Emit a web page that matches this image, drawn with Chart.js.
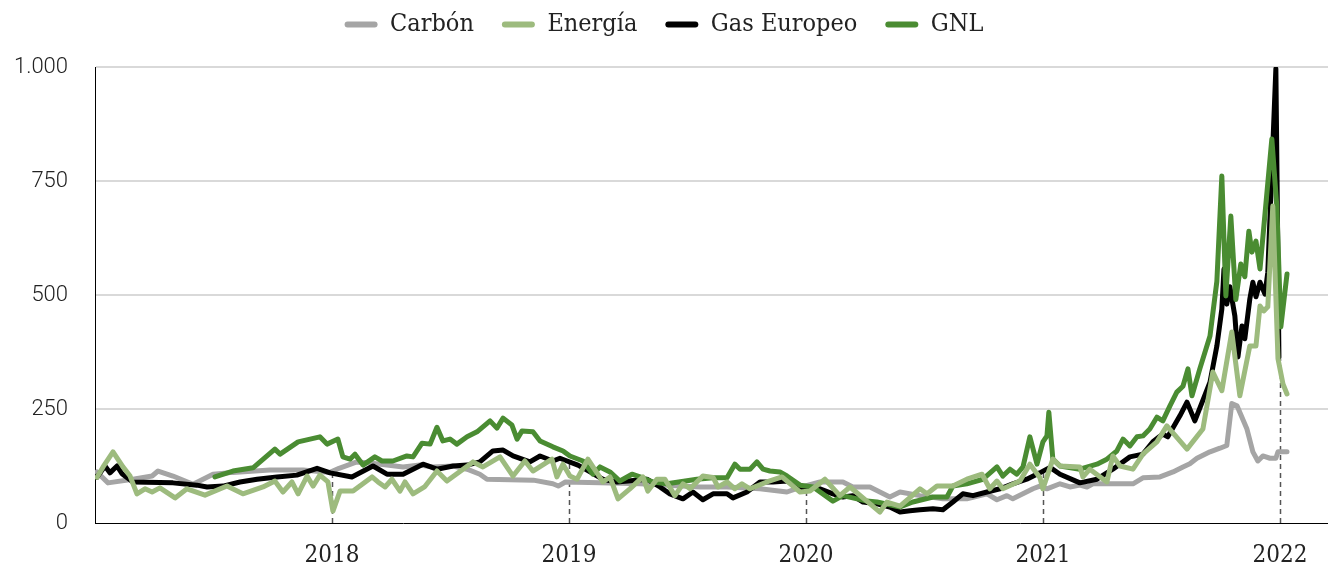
<!DOCTYPE html>
<html>
<head>
<meta charset="utf-8">
<script src="https://cdn.jsdelivr.net/npm/chart.js@4.4.1/dist/chart.umd.min.js"></script>
<style>
  html, body { margin: 0; padding: 0; background: #fff; }
  #wrap { width: 1328px; height: 566px; }
</style>
</head>
<body>
<div id="wrap"><canvas id="c" width="1328" height="566"></canvas></div>
<script>
// ---- Data (x = decimal year) ----
const seriesNames = ['Carbón', 'Energía', 'Gas Europeo', 'GNL'];
const yearTicks = [2018, 2019, 2020, 2021, 2022];
const yearLabels = ['2018', '2019', '2020', '2021', '2022'];
const yTickValues = [0, 250, 500, 750, 1000];
const yTickLabels = ['0', '250', '500', '750', '1.000'];

const carbonDates = [2017.008,2017.055,2017.160,2017.241,2017.266,2017.329,2017.414,2017.498,2017.582,2017.738,2017.878,2017.992,2018.030,2018.105,2018.148,2018.232,2018.300,2018.371,2018.426,2018.511,2018.570,2018.624,2018.654,2018.750,2018.850,2018.932,2018.955,2018.985,2019.131,2019.300,2019.553,2019.667,2019.806,2019.920,2019.975,2020.059,2020.156,2020.198,2020.270,2020.354,2020.397,2020.481,2020.578,2020.679,2020.764,2020.806,2020.848,2020.873,2020.958,2020.987,2021.017,2021.072,2021.114,2021.156,2021.186,2021.211,2021.380,2021.422,2021.494,2021.549,2021.591,2021.620,2021.650,2021.705,2021.747,2021.776,2021.797,2021.819,2021.861,2021.886,2021.907,2021.928,2021.958,2021.983,2021.992,2022.030];
const carbonValues = [112,88,96,103,114,103,85,107,111,116,116,111,120,134,132,127,123,127,123,125,118,107,96,95,94,86,81,90,88,86,79,79,75,68,78,90,90,79,79,57,68,60,53,53,64,51,60,53,75,81,75,86,79,83,79,86,86,99,101,112,123,130,142,156,164,170,262,257,206,156,136,147,142,142,156,156];

const energiaDates = [2017.008,2017.034,2017.076,2017.118,2017.148,2017.177,2017.211,2017.241,2017.274,2017.338,2017.388,2017.464,2017.557,2017.624,2017.709,2017.759,2017.793,2017.831,2017.857,2017.895,2017.920,2017.949,2017.983,2018.004,2018.034,2018.089,2018.169,2018.194,2018.224,2018.253,2018.287,2018.308,2018.342,2018.392,2018.443,2018.485,2018.595,2018.637,2018.709,2018.764,2018.814,2018.848,2018.928,2018.949,2018.975,2019.004,2019.034,2019.080,2019.143,2019.173,2019.207,2019.257,2019.312,2019.333,2019.371,2019.405,2019.447,2019.481,2019.511,2019.565,2019.608,2019.629,2019.667,2019.700,2019.730,2019.764,2019.835,2019.899,2019.975,2020.017,2020.080,2020.143,2020.186,2020.257,2020.312,2020.342,2020.397,2020.481,2020.511,2020.553,2020.620,2020.679,2020.743,2020.776,2020.806,2020.831,2020.903,2020.945,2020.987,2021.000,2021.042,2021.072,2021.156,2021.169,2021.198,2021.270,2021.295,2021.325,2021.380,2021.422,2021.481,2021.523,2021.608,2021.675,2021.717,2021.755,2021.797,2021.831,2021.873,2021.899,2021.916,2021.932,2021.949,2021.970,2021.992,2022.013,2022.030];
const energiaValues = [100,123,156,123,103,64,75,68,77,55,75,61,81,64,79,92,68,90,64,103,81,105,90,26,70,70,101,90,79,96,70,90,64,80,114,92,134,123,145,103,136,114,140,101,129,103,96,140,90,101,53,75,101,70,96,96,60,86,75,103,100,79,90,75,86,75,90,101,68,70,96,60,79,48,24,46,37,75,64,81,81,96,107,75,92,75,92,129,100,75,140,125,123,101,118,90,147,125,118,151,178,213,162,206,331,290,419,279,388,388,476,465,474,695,360,305,283];

const gasDates = [2017.008,2017.042,2017.063,2017.093,2017.114,2017.160,2017.329,2017.430,2017.473,2017.540,2017.612,2017.684,2017.768,2017.852,2017.937,2017.992,2018.084,2018.173,2018.232,2018.300,2018.384,2018.443,2018.511,2018.570,2018.624,2018.679,2018.722,2018.764,2018.835,2018.878,2018.932,2018.962,2018.992,2019.038,2019.089,2019.143,2019.203,2019.329,2019.384,2019.426,2019.481,2019.523,2019.565,2019.608,2019.667,2019.692,2019.751,2019.806,2019.861,2019.920,2019.975,2020.059,2020.114,2020.156,2020.198,2020.241,2020.300,2020.354,2020.397,2020.439,2020.481,2020.536,2020.578,2020.620,2020.662,2020.705,2020.764,2020.819,2020.873,2020.932,2020.987,2021.030,2021.072,2021.156,2021.228,2021.295,2021.367,2021.422,2021.464,2021.506,2021.527,2021.578,2021.608,2021.641,2021.705,2021.734,2021.755,2021.764,2021.776,2021.789,2021.810,2021.823,2021.840,2021.852,2021.873,2021.886,2021.899,2021.916,2021.937,2021.949,2021.983,2021.996];
const gasValues = [100,125,110,125,108,90,88,83,79,81,90,96,101,105,120,110,101,125,107,107,129,118,125,127,134,158,160,147,134,147,136,142,136,127,112,96,90,96,79,64,53,68,51,64,64,55,68,90,90,92,78,75,64,57,60,46,42,35,24,27,29,31,29,46,64,60,68,75,86,96,110,122,107,88,96,118,145,151,178,195,189,235,265,224,309,388,469,557,480,518,454,364,432,404,491,528,496,528,502,550,996,364];

const gnlDates = [2017.506,2017.582,2017.667,2017.759,2017.781,2017.857,2017.949,2017.979,2018.025,2018.046,2018.076,2018.097,2018.131,2018.181,2018.211,2018.257,2018.316,2018.342,2018.380,2018.414,2018.443,2018.468,2018.498,2018.527,2018.570,2018.612,2018.667,2018.696,2018.722,2018.759,2018.781,2018.802,2018.848,2018.878,2018.932,2018.975,2019.004,2019.059,2019.101,2019.131,2019.173,2019.215,2019.266,2019.300,2019.354,2019.414,2019.540,2019.608,2019.667,2019.700,2019.722,2019.764,2019.793,2019.819,2019.848,2019.890,2019.920,2019.975,2020.030,2020.114,2020.156,2020.257,2020.300,2020.397,2020.451,2020.536,2020.595,2020.620,2020.679,2020.747,2020.806,2020.831,2020.861,2020.890,2020.916,2020.945,2020.975,2021.000,2021.017,2021.025,2021.042,2021.072,2021.156,2021.228,2021.270,2021.312,2021.338,2021.367,2021.397,2021.422,2021.451,2021.481,2021.506,2021.536,2021.565,2021.591,2021.612,2021.629,2021.662,2021.705,2021.734,2021.755,2021.772,2021.793,2021.814,2021.835,2021.852,2021.869,2021.882,2021.899,2021.916,2021.941,2021.966,2021.987,2022.004,2022.030];
const gnlValues = [101,114,121,162,151,178,189,173,184,145,140,151,127,145,136,136,147,145,175,173,210,180,184,173,189,200,224,208,230,215,184,202,200,180,167,158,147,136,107,123,112,92,107,101,90,86,96,99,99,129,118,118,134,118,114,112,103,83,79,48,60,48,46,35,46,57,57,81,86,96,123,103,118,107,123,189,129,178,191,243,140,125,118,129,140,158,184,169,189,191,206,232,224,257,287,300,338,279,338,410,530,761,498,673,490,568,540,640,594,618,557,700,842,695,430,546];

const colors = { carbon: '#a5a5a5', energia: '#9dbb7e', gas: '#000000', gnl: '#4a8c32' };

function toPoints(dates, values) {
  const n = Math.min(dates.length, values.length);
  const out = [];
  for (let i = 0; i < n; i++) out.push({ x: dates[i], y: values[i] });
  return out;
}
function interpAt(dates, values, t) {
  for (let i = 0; i < dates.length - 1; i++) {
    if (dates[i] <= t && t <= dates[i + 1]) {
      const f = (t - dates[i]) / (dates[i + 1] - dates[i]);
      return values[i] + f * (values[i + 1] - values[i]);
    }
  }
  return values[values.length - 1];
}

const SERIF = "'DejaVu Serif Condensed', 'DejaVu Serif', serif";

const dropLines = {
  id: 'dropLines',
  beforeDatasetsDraw(chart) {
    const { ctx, scales: { x, y } } = chart;
    ctx.save();
    ctx.strokeStyle = '#555555';
    ctx.lineWidth = 1.5;
    ctx.setLineDash([5, 4]);
    yearTicks.forEach(yr => {
      const v = interpAt(gasDates, gasValues, yr);
      const px = Math.round(x.getPixelForValue(yr)) + 0.5;
      ctx.beginPath();
      ctx.moveTo(px, y.getPixelForValue(0));
      ctx.lineTo(px, y.getPixelForValue(v));
      ctx.stroke();
    });
    ctx.restore();
  }
};

const legendTweak = {
  id: 'legendTweak',
  beforeInit(chart) {
    const fit = chart.legend.fit;
    chart.legend.fit = function () { fit.call(this); this.height = 67; };
  },
  afterLayout(chart) {
    chart.legend.top = -16;
  }
};

const lineDs = (label, dates, values, color, order) => ({
  label, data: toPoints(dates, values), borderColor: color, backgroundColor: color,
  borderWidth: 5, pointRadius: 0, tension: 0, order,
  borderJoinStyle: 'round', borderCapStyle: 'round'
});

new Chart(document.getElementById('c'), {
  type: 'line',
  data: {
    datasets: [
      lineDs(seriesNames[0], carbonDates, carbonValues, colors.carbon, 4),
      lineDs(seriesNames[1], energiaDates, energiaValues, colors.energia, 1),
      lineDs(seriesNames[2], gasDates, gasValues, colors.gas, 3),
      lineDs(seriesNames[3], gnlDates, gnlValues, colors.gnl, 2)
    ]
  },
  plugins: [dropLines, legendTweak],
  options: {
    responsive: false,
    animation: false,
    events: [],
    layout: { padding: 0 },
    plugins: {
      tooltip: { enabled: false },
      legend: {
        position: 'top',
        labels: {
          font: { family: SERIF, size: 25 },
          color: '#222222',
          boxWidth: 33,
          boxHeight: 6,
          useBorderRadius: true,
          borderRadius: 3,
          padding: 28,
          sort: (a, b) => a.datasetIndex - b.datasetIndex,
          generateLabels(chart) {
            const items = Chart.defaults.plugins.legend.labels.generateLabels(chart);
            items.forEach(it => { it.lineWidth = 0; it.fillStyle = it.strokeStyle; });
            return items;
          }
        }
      }
    },
    scales: {
      x: {
        type: 'linear',
        min: 2017,
        max: 2022.203,
        afterBuildTicks(scale) { scale.ticks = yearTicks.map(v => ({ value: v })); },
        afterFit(scale) { scale.height = 43; },
        ticks: {
          callback: (v) => { const i = yearTicks.indexOf(v); return i >= 0 ? yearLabels[i] : ''; },
          font: { family: SERIF, size: 24 },
          color: '#222222',
          padding: 18,
          maxRotation: 0
        },
        grid: { display: false, drawTicks: false },
        border: { display: true, color: '#000000', width: 1 }
      },
      y: {
        min: 0,
        max: 1000,
        afterBuildTicks(scale) { scale.ticks = yTickValues.map(v => ({ value: v })); },
        afterFit(scale) { scale.width = 95; },
        ticks: {
          callback: (v) => { const i = yTickValues.indexOf(v); return i >= 0 ? yTickLabels[i] : ''; },
          font: { family: 'Roboto', size: 22, weight: '300' },
          color: '#222222',
          padding: 27
        },
        grid: {
          color: (c) => (c.tick && c.tick.value === 0) ? 'rgba(0,0,0,0)' : '#d9d9d9',
          lineWidth: 2,
          drawTicks: false
        },
        border: { display: true, color: '#000000', width: 1 }
      }
    }
  }
});
</script>
</body>
</html>
